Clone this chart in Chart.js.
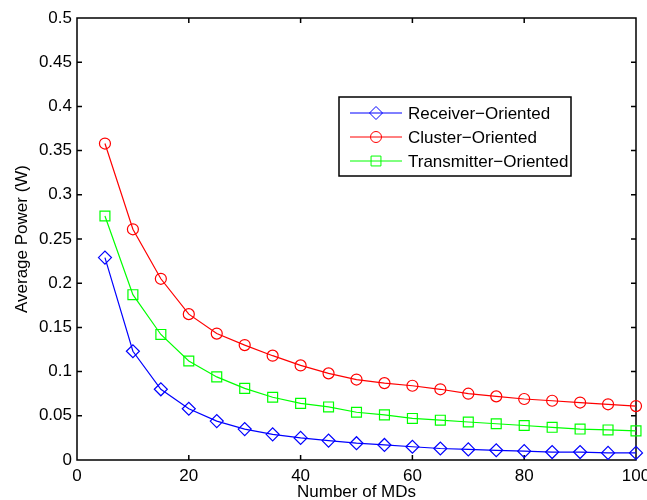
<!DOCTYPE html>
<html>
<head>
<meta charset="utf-8">
<title>Average Power vs Number of MDs</title>
<script src="https://cdn.jsdelivr.net/npm/chart.js"></script>
<style>
  html, body { margin: 0; padding: 0; background: #fff; }
  #wrap { width: 647px; height: 500px; }
</style>
</head>
<body>
<div id="wrap"><canvas id="powerChart" width="647" height="500"></canvas></div>
<script>
// values
const mdCounts = [5, 10, 15, 20, 25, 30, 35, 40, 45, 50, 55, 60, 65, 70, 75, 80, 85, 90, 95, 100];
const receiverPower = [0.229, 0.123, 0.080, 0.058, 0.044, 0.035, 0.029, 0.025, 0.022, 0.019,
                       0.017, 0.015, 0.013, 0.012, 0.011, 0.010, 0.009, 0.009, 0.008, 0.008];
const clusterPower = [0.358, 0.261, 0.205, 0.165, 0.143, 0.130, 0.118, 0.107, 0.098, 0.091,
                      0.087, 0.084, 0.080, 0.075, 0.072, 0.069, 0.067, 0.065, 0.063, 0.061];
const transmitterPower = [0.276, 0.187, 0.142, 0.112, 0.094, 0.081, 0.071, 0.064, 0.060, 0.054,
                          0.051, 0.047, 0.045, 0.043, 0.041, 0.039, 0.037, 0.035, 0.034, 0.033];
const seriesNames = ['Receiver\u2212Oriented', 'Cluster\u2212Oriented', 'Transmitter\u2212Oriented'];
const xTickLabels = ['0', '20', '40', '60', '80', '100'];
const yTickLabels = ['0', '0.05', '0.1', '0.15', '0.2', '0.25', '0.3', '0.35', '0.4', '0.45', '0.5'];

const FONT = 'Liberation Sans, Arial, Helvetica, sans-serif';

function toPoints(values) {
  return mdCounts.map((n, i) => ({ x: n, y: values[i] }));
}

function series(label, values, color, style, radius) {
  return {
    label: label,
    data: toPoints(values),
    borderColor: color,
    backgroundColor: color,
    borderWidth: 1.2,
    pointStyle: style,
    pointRadius: radius,
    pointBorderColor: color,
    pointBackgroundColor: 'rgba(0,0,0,0)',
    pointBorderWidth: 1.2,
    tension: 0,
    clip: false
  };
}

// MATLAB-like box with inward ticks on all four sides
const axesBox = {
  id: 'axesBox',
  beforeDatasetsDraw(chart) {
    const { ctx, chartArea: a, scales: { x, y } } = chart;
    const len = 5;
    ctx.save();
    ctx.strokeStyle = '#000';
    ctx.lineWidth = 1.5;
    ctx.beginPath();
    ctx.rect(a.left, a.top, a.right - a.left, a.bottom - a.top);
    x.ticks.forEach(t => {
      const px = x.getPixelForValue(t.value);
      ctx.moveTo(px, a.bottom); ctx.lineTo(px, a.bottom - len);
      ctx.moveTo(px, a.top); ctx.lineTo(px, a.top + len);
    });
    y.ticks.forEach(t => {
      const py = y.getPixelForValue(t.value);
      ctx.moveTo(a.left, py); ctx.lineTo(a.left + len, py);
      ctx.moveTo(a.right, py); ctx.lineTo(a.right - len, py);
    });
    ctx.stroke();
    ctx.restore();
  }
};

function drawMarker(ctx, style, cx, cy, r) {
  ctx.beginPath();
  if (style === 'rectRot') {
    ctx.moveTo(cx - r, cy); ctx.lineTo(cx, cy - r);
    ctx.lineTo(cx + r, cy); ctx.lineTo(cx, cy + r);
    ctx.closePath();
  } else if (style === 'rect') {
    const s = r * Math.SQRT1_2;
    ctx.rect(cx - s, cy - s, 2 * s, 2 * s);
  } else {
    ctx.arc(cx, cy, r, 0, Math.PI * 2);
  }
  ctx.stroke();
}

// legend box drawn inside the plot, MATLAB style (line + marker)
const boxLegend = {
  id: 'boxLegend',
  afterDraw(chart) {
    const ctx = chart.ctx;
    const box = { x: 339, y: 97, w: 232, h: 79 };
    ctx.save();
    ctx.fillStyle = '#fff';
    ctx.fillRect(box.x, box.y, box.w, box.h);
    ctx.strokeStyle = '#000';
    ctx.lineWidth = 1.5;
    ctx.strokeRect(box.x, box.y, box.w, box.h);
    ctx.font = '17px ' + FONT;
    ctx.textBaseline = 'middle';
    chart.data.datasets.forEach((ds, i) => {
      const cy = box.y + 16 + i * 24;
      ctx.strokeStyle = ds.borderColor;
      ctx.lineWidth = 1;
      ctx.beginPath();
      ctx.moveTo(box.x + 11, cy); ctx.lineTo(box.x + 63, cy);
      ctx.stroke();
      drawMarker(ctx, ds.pointStyle, box.x + 37, cy, ds.pointRadius);
      ctx.fillStyle = '#000';
      ctx.fillText(ds.label, box.x + 69, cy + 1);
    });
    ctx.restore();
  }
};

new Chart(document.getElementById('powerChart'), {
  type: 'line',
  data: {
    datasets: [
      series(seriesNames[0], receiverPower, '#0000ff', 'rectRot', 6.5),
      series(seriesNames[1], clusterPower, '#ff0000', 'circle', 5.5),
      series(seriesNames[2], transmitterPower, '#00ff00', 'rect', 7)
    ]
  },
  options: {
    responsive: false,
    animation: false,
    events: [],
    layout: { padding: { top: 18, right: 11, left: 0, bottom: 0 } },
    plugins: {
      legend: { display: false },
      tooltip: { enabled: false }
    },
    scales: {
      x: {
        type: 'linear',
        min: 0,
        max: 100,
        grid: { display: false, drawTicks: false, tickLength: 0 },
        border: { display: false },
        ticks: {
          stepSize: 20,
          padding: 6,
          color: '#000',
          font: { family: FONT, size: 17 },
          maxRotation: 0,
          callback: (v) => xTickLabels[Math.round(v / 20)]
        },
        title: {
          display: true,
          text: 'Number of MDs',
          color: '#000',
          font: { family: FONT, size: 17 },
          padding: { top: 0, bottom: -3 }
        },
        afterFit: (scale) => {
          scale.height = 40;
          scale.paddingLeft = 0;
          scale.paddingRight = 0;
        }
      },
      y: {
        type: 'linear',
        min: 0,
        max: 0.5,
        grid: { display: false, drawTicks: false, tickLength: 0 },
        border: { display: false },
        ticks: {
          stepSize: 0.05,
          padding: 5,
          color: '#000',
          font: { family: FONT, size: 17 },
          callback: (v) => yTickLabels[Math.round(v / 0.05)]
        },
        title: {
          display: true,
          text: 'Average Power (W)',
          color: '#000',
          font: { family: FONT, size: 17 },
          padding: { top: 12, bottom: 0 }
        },
        afterFit: (scale) => {
          scale.width = 77;
        }
      }
    }
  },
  plugins: [axesBox, boxLegend]
});
</script>
</body>
</html>
